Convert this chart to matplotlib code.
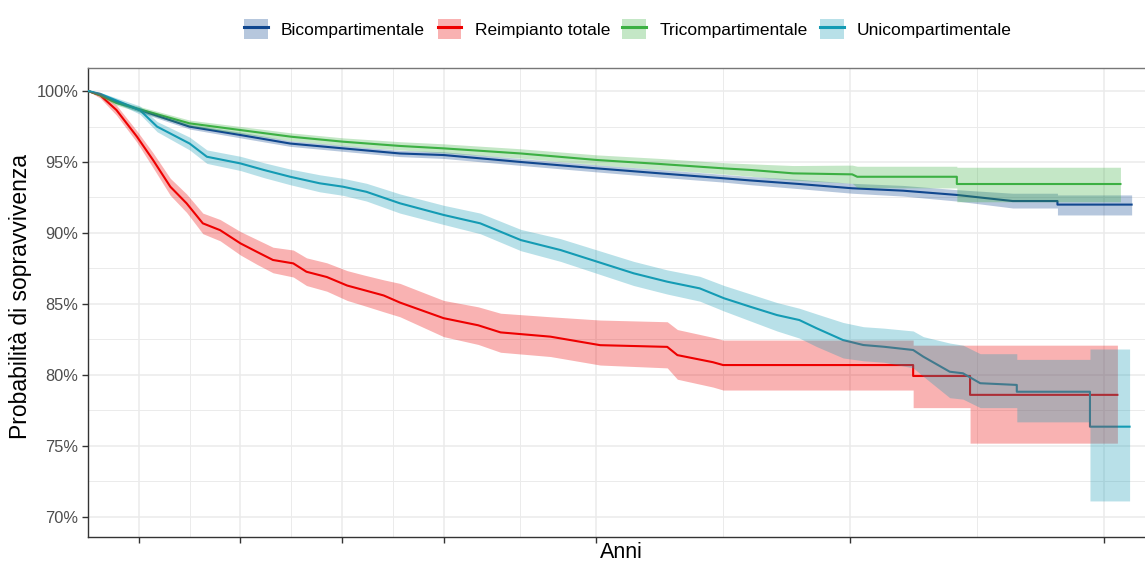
import matplotlib
matplotlib.use('Agg')
import matplotlib.pyplot as plt
from matplotlib.patches import Patch
from matplotlib.lines import Line2D
from matplotlib.ticker import FuncFormatter, NullFormatter

plt.rcParams['font.family'] = ['Liberation Sans', 'DejaVu Sans']

# Bicompartimentale
t_bi = [0, 0.12, 0.28, 0.51, 1.0, 1.5, 1.99, 2.51, 3.07, 3.5, 4.26, 5.01, 5.63, 6.26, 6.52, 7.0, 7.52, 8.02, 8.55, 9.1, 9.54, 9.54, 10.27]
s_bi = [100, 99.75, 99.25, 98.66, 97.49, 96.9, 96.3, 95.96, 95.6, 95.49, 95.0, 94.55, 94.2, 93.85, 93.7, 93.45, 93.15, 92.98, 92.68, 92.25, 92.25, 92.0, 92.0]
hi_bi = [100, 99.82, 99.37, 98.82, 97.66, 97.1, 96.5, 96.17, 95.82, 95.72, 95.24, 94.8, 94.47, 94.12, 93.98, 93.78, 93.5, 93.35, 93.05, 92.8, 92.8, 92.68, 92.68]
lo_bi = [100, 99.68, 99.13, 98.5, 97.32, 96.7, 96.1, 95.75, 95.38, 95.25, 94.76, 94.3, 93.93, 93.58, 93.4, 93.12, 92.8, 92.6, 92.25, 91.76, 91.76, 91.27, 91.27]

# Reimpianto totale
t_re = [0, 0.12, 0.28, 0.48, 0.64, 0.81, 0.97, 1.13, 1.30, 1.50, 1.66, 1.82, 2.02, 2.15, 2.35, 2.55, 2.71, 2.91, 3.07, 3.5,
        3.84, 4.06, 4.55, 5.04, 5.7, 5.8, 6.15, 6.25, 8.12, 8.12, 8.68, 8.68, 10.13]
s_re = [100, 99.7, 98.66, 96.8, 95.14, 93.26, 92.09, 90.68, 90.2, 89.27, 88.68, 88.1, 87.86, 87.27, 86.9, 86.3, 85.99, 85.6, 85.1, 84.0,
        83.5, 83.0, 82.7, 82.1, 81.98, 81.4, 80.9, 80.7, 80.7, 79.93, 79.93, 78.6, 78.6]
hi_re = [100, 99.9, 99.0, 97.2, 95.65, 93.85, 92.75, 91.4, 90.95, 90.1, 89.55, 89.0, 88.8, 88.25, 87.9, 87.35, 87.05, 86.7, 86.45, 85.25,
         84.8, 84.35, 84.1, 83.87, 83.75, 83.2, 82.65, 82.46, 82.46, 82.1, 82.1, 82.1, 82.1]
lo_re = [100, 99.5, 98.3, 96.4, 94.6, 92.65, 91.45, 89.95, 89.45, 88.45, 87.8, 87.2, 86.9, 86.3, 85.9, 85.25, 84.9, 84.45, 84.1, 82.7,
         82.15, 81.6, 81.3, 80.7, 80.5, 79.7, 79.15, 78.94, 78.94, 77.7, 77.7, 75.2, 75.2]

# Tricompartimentale
t_tri = [0, 0.12, 0.28, 0.51, 1.0, 1.5, 2.0, 2.51, 3.07, 3.5, 4.26, 5.01, 5.63, 6.26, 6.52, 6.94, 7.52, 7.57, 8.55, 8.55, 10.16]
s_tri = [100, 99.7, 99.15, 98.71, 97.72, 97.25, 96.78, 96.43, 96.13, 95.96, 95.6, 95.14, 94.86, 94.55, 94.44, 94.2, 94.13, 93.96, 93.96, 93.45, 93.45]
hi_tri = [100, 99.8, 99.3, 98.9, 97.95, 97.5, 97.05, 96.7, 96.43, 96.28, 95.93, 95.5, 95.25, 94.95, 94.87, 94.75, 94.78, 94.7, 94.7, 94.63, 94.63]
lo_tri = [100, 99.6, 99.0, 98.52, 97.5, 97.0, 96.5, 96.15, 95.85, 95.65, 95.27, 94.8, 94.48, 94.15, 94.0, 93.72, 93.5, 93.2, 93.17, 92.2, 92.2]

# Unicompartimentale
t_uni = [0, 0.12, 0.51, 0.68, 1.0, 1.17, 1.5, 1.73, 1.99, 2.28, 2.51, 2.74, 3.07, 3.5, 3.86, 4.26, 4.65, 5.01, 5.37, 5.7,
         6.02, 6.26, 6.52, 6.78, 7.0, 7.17, 7.43, 7.63, 7.83, 8.12, 8.22, 8.48, 8.61, 8.78, 9.14, 9.14, 9.86, 9.86, 10.25]
s_uni = [100, 99.8, 98.66, 97.49, 96.3, 95.37, 94.9, 94.44, 93.96, 93.5, 93.26, 92.9, 92.09, 91.27, 90.68, 89.5, 88.8, 87.98, 87.16, 86.57,
         86.1, 85.4, 84.8, 84.22, 83.87, 83.29, 82.46, 82.11, 81.99, 81.76, 81.29, 80.23, 80.12, 79.42, 79.3, 78.82, 78.82, 76.36, 76.36]
hi_uni = [100, 99.9, 98.95, 97.85, 96.75, 95.85, 95.4, 94.95, 94.5, 94.1, 93.85, 93.5, 92.75, 91.95, 91.4, 90.25, 89.6, 88.8, 88.0, 87.4,
          86.95, 86.3, 85.7, 85.1, 84.7, 84.3, 83.7, 83.4, 83.3, 83.1, 82.7, 82.25, 82.1, 81.5, 81.5, 81.1, 81.1, 81.83, 81.83]
lo_uni = [100, 99.7, 98.37, 97.13, 95.85, 94.9, 94.4, 93.9, 93.4, 92.9, 92.65, 92.25, 91.4, 90.6, 89.95, 88.75, 88.0, 87.15, 86.3, 85.7,
          85.2, 84.5, 83.8, 83.1, 82.6, 82.0, 81.2, 81.0, 80.9, 80.5, 79.9, 78.4, 78.3, 77.7, 77.7, 76.7, 76.7, 71.13, 71.13]

labels = ['Bicompartimentale', 'Reimpianto totale', 'Tricompartimentale', 'Unicompartimentale']
colors = ['#10478f', '#ee0000', '#3cb043', '#149bb4']
x_major = [0.5, 1.5, 2.5, 3.5, 5, 7.5, 10]
x_minor = [1, 2, 3, 4.25, 6.25, 8.75]
y_major = [70, 75, 80, 85, 90, 95, 100]
y_minor = [72.5, 77.5, 82.5, 87.5, 92.5, 97.5]

series = [(t_bi, s_bi, lo_bi, hi_bi), (t_re, s_re, lo_re, hi_re),
          (t_tri, s_tri, lo_tri, hi_tri), (t_uni, s_uni, lo_uni, hi_uni)]

fig = plt.figure(figsize=(11.45, 5.64), dpi=100)
ax = fig.add_axes([88/1145, 27/564, 1067/1145, 469/564])

# lines first, ribbons on top (as in the original, overlaps darken the lines)
for (t, s, lo, hi), c in zip(series, colors):
    ax.plot(t, s, color=c, lw=1.5, zorder=3)
for (t, s, lo, hi), c in zip(series, colors):
    ax.fill_between(t, lo, hi, color=c, alpha=0.3, lw=0, zorder=4)

ax.set_xlim(0, 10.5)
ax.set_ylim(68.59, 101.62)
ax.set_xticks(x_major)
ax.set_xticks(x_minor, minor=True)
ax.set_yticks(y_major)
ax.set_yticks(y_minor, minor=True)
ax.xaxis.set_major_formatter(NullFormatter())
ax.yaxis.set_major_formatter(FuncFormatter(lambda v, p: '%d%%' % v))
ax.grid(True, which='major', color='#ebebeb', lw=1.1, zorder=0)
ax.grid(True, which='minor', color='#ebebeb', lw=0.7, zorder=0)
ax.set_axisbelow(True)
ax.tick_params(axis='both', which='major', length=4, width=1, color='#333333',
               labelsize=11.8, labelcolor='#4d4d4d', pad=3)
ax.tick_params(axis='both', which='minor', length=0)
for sp in ax.spines.values():
    sp.set_color('#333333')
    sp.set_linewidth(1.0)
ax.spines['top'].set_color('#777777')

ax.set_xlabel('Anni', fontsize=15.5, color='black')
ax.xaxis.label.set_va('center')
ax.xaxis.set_label_coords(0.5, -0.034)
ax.set_ylabel('Probabilità di sopravvivenza', fontsize=16.5, color='black')
ax.yaxis.label.set_va('center')
ax.yaxis.set_label_coords(-0.063, 0.512)

handles = [(Patch(facecolor=c, alpha=0.3, lw=0), Line2D([], [], color=c, lw=2.2)) for c in colors]
fig.legend(handles, labels, loc='center', bbox_to_anchor=(628/1145, 1 - 29/564), ncol=4,
           frameon=False, fontsize=12.5, handlelength=1.38, handleheight=1.44,
           handletextpad=0.75, columnspacing=0.72)

fig.savefig('out.png', dpi=100)
